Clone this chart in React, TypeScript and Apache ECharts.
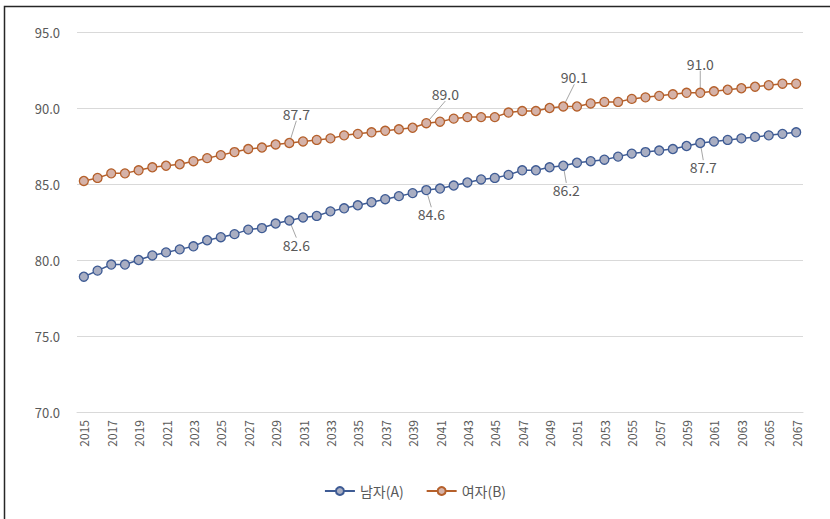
import React, { useEffect, useRef } from "react";
import * as echarts from "echarts";

const years: string[] = [];
for (let y = 2015; y <= 2067; y++) years.push(String(y));

const maleValues = [
  78.9, 79.3, 79.7, 79.7, 80.0, 80.3, 80.5, 80.7, 80.9, 81.3,
  81.5, 81.7, 82.0, 82.1, 82.4, 82.6, 82.8, 82.9, 83.2, 83.4,
  83.6, 83.8, 84.0, 84.2, 84.4, 84.6, 84.7, 84.9, 85.1, 85.3,
  85.4, 85.6, 85.9, 85.9, 86.1, 86.2, 86.4, 86.5, 86.6, 86.8,
  87.0, 87.1, 87.2, 87.3, 87.5, 87.7, 87.8, 87.9, 88.0, 88.1,
  88.2, 88.3, 88.4,
];

const femaleValues = [
  85.2, 85.4, 85.7, 85.7, 85.9, 86.1, 86.2, 86.3, 86.5, 86.7,
  86.9, 87.1, 87.3, 87.4, 87.6, 87.7, 87.8, 87.9, 88.0, 88.2,
  88.3, 88.4, 88.5, 88.6, 88.7, 89.0, 89.1, 89.3, 89.4, 89.4,
  89.4, 89.7, 89.8, 89.8, 90.0, 90.1, 90.1, 90.3, 90.4, 90.4,
  90.6, 90.7, 90.8, 90.9, 91.0, 91.0, 91.1, 91.2, 91.3, 91.4,
  91.5, 91.6, 91.6,
];

const labeledYears = ["2030", "2040", "2050", "2060"];
const seriesNames = ["남자(A)", "여자(B)"];
const yTicks = { min: 70, max: 95, interval: 5 };

const FONT = "'Noto Sans CJK KR', 'Noto Sans', sans-serif";
const TEXT = "#595959";

const femaleDx: Record<string, number> = { "2030": 7, "2040": 19, "2050": 11, "2060": 0 };
const maleDx: Record<string, number> = { "2030": 7, "2040": 5, "2050": 3, "2060": 3 };

function buildData(values: number[], pos: "top" | "bottom") {
  return values.map((v, i) => {
    if (labeledYears.includes(years[i])) {
      return {
        value: v,
        label: { show: true, position: pos },
        labelLine: { show: true, lineStyle: { color: "#A6A6A6", width: 1 } },
      };
    }
    return { value: v };
  });
}

export default function App() {
  const ref = useRef<HTMLDivElement>(null);
  useEffect(() => {
    if (!ref.current) return;
    const chart = echarts.init(ref.current, undefined, { renderer: "svg" });
    chart.setOption({
      animation: false,
      backgroundColor: "#ffffff",
      textStyle: { fontFamily: FONT },
      grid: { left: 77, right: 27, top: 32, bottom: 107, containLabel: false },
      graphic: [
        {
          type: "rect",
          shape: { x: 4.5, y: 6.5, width: 900, height: 700 },
          style: { fill: "none", stroke: "#262626", lineWidth: 1.5 },
          silent: true,
        },
      ],
      legend: {
        bottom: 16,
        left: "center",
        itemWidth: 30,
        itemHeight: 10,
        itemGap: 22,
        textStyle: { color: TEXT, fontSize: 14, fontFamily: FONT },
        data: seriesNames,
      },
      xAxis: {
        type: "category",
        data: years,
        boundaryGap: true,
        axisLine: { show: true, lineStyle: { color: "#D9D9D9", width: 1 } },
        axisTick: { show: false },
        axisLabel: {
          interval: 1,
          rotate: 90,
          color: TEXT,
          fontSize: 12,
          margin: 8,
          fontFamily: FONT,
        },
      },
      yAxis: {
        type: "value",
        min: yTicks.min,
        max: yTicks.max,
        interval: yTicks.interval,
        axisLine: { show: false },
        axisTick: { show: false },
        splitLine: { lineStyle: { color: "#D9D9D9", width: 1 } },
        axisLabel: {
          color: TEXT,
          fontSize: 13,
          margin: 17,
          fontFamily: FONT,
          formatter: (v: number) => v.toFixed(1),
        },
      },
      series: [
        {
          name: seriesNames[0],
          type: "line",
          data: buildData(maleValues, "bottom"),
          symbol: "circle",
          symbolSize: 9,
          lineStyle: { color: "#3E5B94", width: 1.5 },
          itemStyle: { color: "#A9AEC2", borderColor: "#3E5B94", borderWidth: 1.3 },
          label: {
            color: TEXT,
            fontSize: 14,
            fontFamily: FONT,
            formatter: (p: any) => Number(p.value).toFixed(1),
          },
          labelLayout: (p: any) => {
            const yr = years[p.dataIndex];
            return { dx: maleDx[yr] ?? 0, dy: 7 };
          },
        },
        {
          name: seriesNames[1],
          type: "line",
          data: buildData(femaleValues, "top"),
          symbol: "circle",
          symbolSize: 9,
          lineStyle: { color: "#B5602B", width: 1.5 },
          itemStyle: { color: "#D5B2A8", borderColor: "#B5602B", borderWidth: 1.3 },
          label: {
            color: TEXT,
            fontSize: 14,
            fontFamily: FONT,
            formatter: (p: any) => Number(p.value).toFixed(1),
          },
          labelLayout: (p: any) => {
            const yr = years[p.dataIndex];
            return { dx: femaleDx[yr] ?? 0, dy: -12 };
          },
        },
      ],
    });
    return () => chart.dispose();
  }, []);
  return (
    <div
      ref={ref}
      style={{ position: "absolute", left: 0, top: 0, width: 830, height: 519 }}
    />
  );
}
